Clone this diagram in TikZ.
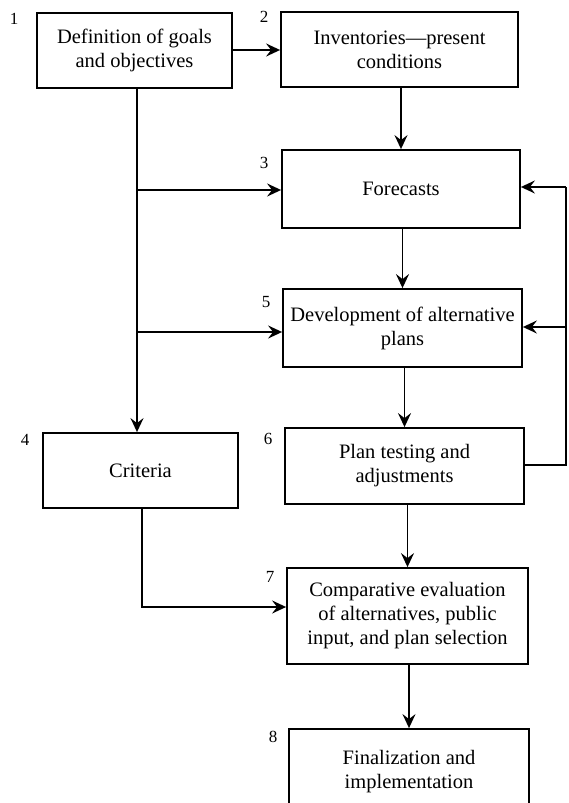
\documentclass[tikz,border=0pt]{standalone}
\usepackage{fontspec}
\setmainfont{Liberation Serif}
\usetikzlibrary{arrows.meta}
\begin{document}
\begin{tikzpicture}[x=1pt,y=-1pt,
  box/.style={draw,line width=1.8pt,align=center,inner sep=0pt,
    font=\fontsize{20.5}{24}\selectfont},
  num/.style={font=\fontsize{17}{20}\selectfont,inner sep=0pt},
  arr/.style={line width=1.8pt,-{Stealth[length=14pt,width=13pt,inset=5pt]}},
  ln/.style={line width=1.8pt}]
\path[use as bounding box,clip] (0,0) rectangle (568,803);
\node[box,minimum width=195pt,minimum height=75pt] (b1) at (134.5,50.5) {Definition of goals\\and objectives};
\node[box,minimum width=237pt,minimum height=75pt] (b2) at (399.5,49.5) {Inventories---present\\conditions};
\node[box,minimum width=238pt,minimum height=78pt] (b3) at (401,189) {Forecasts};
\node[box,minimum width=239pt,minimum height=78pt] (b5) at (402.5,328) {Development of alternative\\plans};
\node[box,minimum width=195pt,minimum height=75pt] (b4) at (140.5,470.5) {Criteria};
\node[box,minimum width=239pt,minimum height=76pt] (b6) at (404.5,466) {Plan testing and\\adjustments};
\node[box,minimum width=241pt,minimum height=96pt] (b7) at (407.5,616) {Comparative evaluation\\of alternatives, public\\input, and plan selection};
\node[box,minimum width=240pt,minimum height=86pt] (b8) at (409,772) {Finalization and\\implementation};
\node[num] (n1) at (14,19) {1};
\node[num] (n2) at (264,17) {2};
\node[num] (n3) at (264,163) {3};
\node[num] (n5) at (266,302) {5};
\node[num] (n4) at (25,440) {4};
\node[num] (n6) at (268,439) {6};
\node[num] (n7) at (270,577) {7};
\node[num] (n8) at (273,737) {8};
% main chain
\draw[arr] (b1.east |- 0,50) -- (b2.west |- 0,50);
\draw[arr] (b3.north |- b2.south) -- (b3.north);
\draw[arr] (b5.north |- b3.south) -- (b5.north);
\draw[arr] (b6.north |- b5.south) -- (b6.north);
\draw[arr] (b7.north |- b6.south) -- (b7.north);
\draw[arr] (b8.north |- b7.south) -- (b8.north);
% left trunk
\coordinate (t1) at (137,190);
\coordinate (t2) at (137,332);
\draw[arr] (b1.south -| 137,0) -- (b4.north -| 137,0);
\draw[arr] (t1) -- (b3.west |- t1);
\draw[arr] (t2) -- (b5.west |- t2);
% criteria to 7
\coordinate (c1) at (142,607);
\draw[arr] (b4.south -| c1) -- (c1) -- (b7.west |- c1);
% feedback
\coordinate (f1) at (566,465);
\coordinate (f2) at (566,187);
\coordinate (f3) at (566,327);
\draw[ln] (b6.east |- f1) -- (f1) -- (f2);
\draw[arr] (f2) -- (b3.east |- f2);
\draw[arr] (f3) -- (b5.east |- f3);
\end{tikzpicture}
\end{document}
